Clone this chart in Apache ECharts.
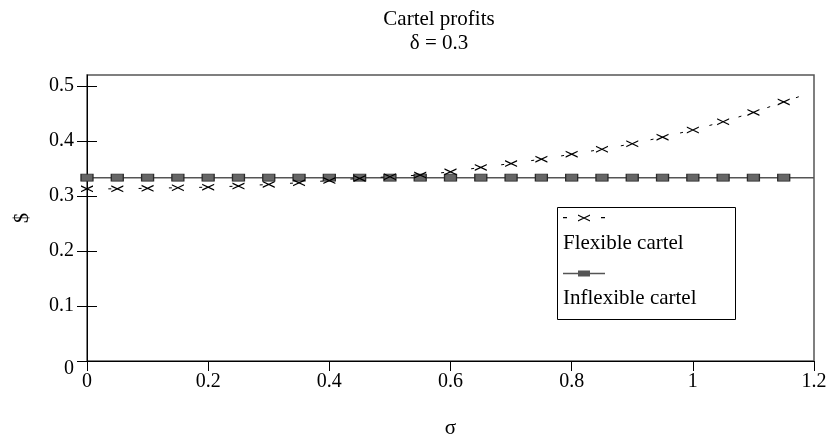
<!DOCTYPE html>
<html>
<head>
<meta charset="utf-8">
<script src="https://cdn.jsdelivr.net/npm/echarts@6/dist/echarts.min.js"></script>
<style>html,body{margin:0;padding:0;background:#fff}#c{width:827px;height:438px}</style>
</head>
<body>
<div id="c"></div>
<script>
// ---- data ----
const sigma = [0, 0.05, 0.1, 0.15, 0.2, 0.25, 0.3, 0.35, 0.4, 0.45, 0.5, 0.55, 0.6, 0.65, 0.7, 0.75, 0.8, 0.85, 0.9, 0.95, 1.0, 1.05, 1.1, 1.15, 1.2];
const flexible = [0.313, 0.313, 0.314, 0.315, 0.316, 0.318, 0.321, 0.324, 0.328, 0.332, 0.335, 0.338, 0.344, 0.352, 0.359, 0.367, 0.376, 0.385, 0.395, 0.407, 0.420, 0.435, 0.452, 0.471, 0.490];
const inflexible = [0.3333, 0.3333, 0.3333, 0.3333, 0.3333, 0.3333, 0.3333, 0.3333, 0.3333, 0.3333, 0.3333, 0.3333, 0.3333, 0.3333, 0.3333, 0.3333, 0.3333, 0.3333, 0.3333, 0.3333, 0.3333, 0.3333, 0.3333, 0.3333, 0.3333];
const yTicks = [0, 0.1, 0.2, 0.3, 0.4, 0.5];
const seriesNames = ['Flexible cartel', 'Inflexible cartel'];
const titleText = 'Cartel profits\nδ = 0.3';

const FONT = 'Liberation Serif';
const Y_MAX = 0.52;
const X_PATH = 'path://M0,0 L12,5.8 L12,7.2 L0,1.4 Z M0,5.8 L12,0 L12,1.4 L0,7.2 Z';
const LEG_FLEX = 'path://M0,4.4 H4 V5.6 H0 Z M38,4.4 H42 V5.6 H38 Z M15,2 L27,7.6 L27,8.9 L15,3.3 Z M15,7.6 L27,2 L27,3.3 L15,8.9 Z';
const LEG_INFLEX = 'path://M0,4.3 H42 V5.7 H0 Z M15,2 H27 V8 H15 Z';

function pts(xs, ys) {
  return xs.map((x, i) => {
    const item = { value: [x, ys[i]] };
    if (i === xs.length - 1) item.symbol = 'none';
    return item;
  });
}

const chart = echarts.init(document.getElementById('c'), null, { renderer: 'canvas' });
chart.setOption({
  animation: false,
  backgroundColor: '#fff',
  textStyle: { fontFamily: FONT, color: '#000' },
  title: {
    text: titleText,
    left: 434,
    top: 2,
    textAlign: 'center',
    textStyle: { fontFamily: FONT, fontSize: 21, fontWeight: 'normal', color: '#000', lineHeight: 24 }
  },
  grid: {
    left: 87, right: 13, top: 75, bottom: 77,
    containLabel: false, outerBoundsMode: 'none',
    show: true, borderColor: '#555', borderWidth: 1.5, backgroundColor: 'transparent'
  },
  xAxis: {
    type: 'value', min: 0, max: 1.2, interval: 0.2,
    name: 'σ', nameLocation: 'middle', nameGap: 57,
    nameTextStyle: { fontFamily: FONT, fontSize: 21, color: '#000' },
    axisLine: { show: true, onZero: false, lineStyle: { color: '#000', width: 1 } },
    axisTick: { show: true, inside: false, length: 10, lineStyle: { color: '#000', width: 1 } },
    axisLabel: { fontFamily: FONT, fontSize: 20, color: '#000', margin: 11 },
    splitLine: { show: false }
  },
  yAxis: [{
    type: 'value', min: 0, max: Y_MAX, interval: 0.1,
    name: '$', nameLocation: 'middle', nameGap: 54, nameRotate: 90,
    nameTextStyle: { fontFamily: FONT, fontSize: 20, color: '#000' },
    axisLine: { show: true, onZero: false, lineStyle: { color: '#000', width: 1 } },
    axisTick: { show: true, inside: false, length: 10, customValues: yTicks, lineStyle: { color: '#000', width: 1 } },
    axisLabel: {
      fontFamily: FONT, fontSize: 20, color: '#000', margin: 13, customValues: yTicks,
      formatter: v => (v === 0 ? '{z|0}' : String(v)),
      rich: { z: { fontFamily: FONT, fontSize: 20, color: '#000', padding: [16, 0, 0, 0] } }
    },
    splitLine: { show: false }
  }, {
    type: 'value', min: 0, max: Y_MAX, interval: 0.1, position: 'left',
    axisLine: { show: false },
    axisTick: { show: true, inside: true, length: 10, customValues: yTicks, lineStyle: { color: '#000', width: 1 } },
    axisLabel: { show: false },
    splitLine: { show: false }
  }],
  legend: [{
    left: 563, top: 213, padding: 0, orient: 'vertical',
    itemWidth: 42, itemHeight: 10, itemGap: 47, symbolKeepAspect: true,
    formatter: () => '',
    textStyle: { fontSize: 1 },
    selectedMode: false,
    data: [
      { name: seriesNames[0], icon: LEG_FLEX, itemStyle: { color: '#000', borderWidth: 0 } },
      { name: seriesNames[1], icon: LEG_INFLEX, itemStyle: { color: '#555', borderWidth: 0 } }
    ]
  }, {
    left: 558, top: 232, padding: 0, orient: 'vertical',
    itemWidth: 0, itemHeight: 22, itemGap: 33,
    selectedMode: false,
    textStyle: { fontFamily: FONT, fontSize: 21, color: '#000', lineHeight: 22 },
    data: [
      { name: seriesNames[0], icon: 'none' },
      { name: seriesNames[1], icon: 'none' }
    ]
  }],
  graphic: [{
    type: 'rect', left: 555, top: 205, z: 100,
    shape: { width: 178, height: 112 },
    style: { fill: 'none', stroke: '#000', lineWidth: 1 }
  }],
  series: [{
    name: seriesNames[1], type: 'line', z: 2,
    data: pts(sigma, inflexible),
    showAllSymbol: true,
    symbol: 'rect', symbolSize: [12, 7],
    itemStyle: { color: '#666', borderColor: '#2a2a2a', borderWidth: 1 },
    lineStyle: { color: '#555', width: 1.5 },
    emphasis: { disabled: true }
  }, {
    name: seriesNames[0], type: 'line', z: 3,
    data: pts(sigma, flexible),
    showAllSymbol: true,
    symbol: X_PATH, symbolSize: [12, 7], symbolKeepAspect: false,
    itemStyle: { color: '#000', borderWidth: 0 },
    lineStyle: { color: '#000', width: 1, type: [3, 27.3], dashOffset: 9 },
    emphasis: { disabled: true }
  }]
});
</script>
</body>
</html>
